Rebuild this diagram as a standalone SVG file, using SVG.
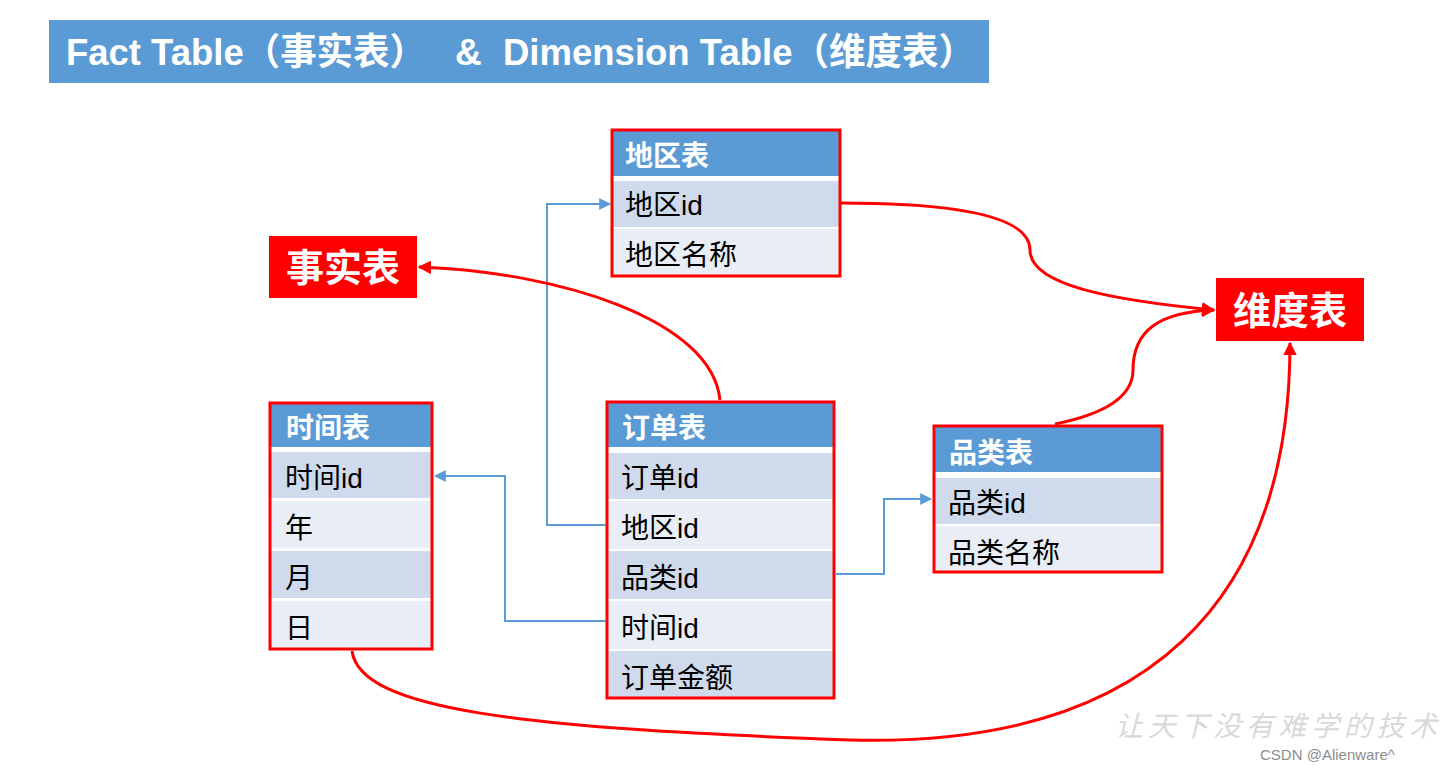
<svg xmlns="http://www.w3.org/2000/svg" width="1440" height="769" viewBox="0 0 1440 769">
<style>
.hdr{fill:#5b9bd5}
.rd{fill:#cfdbec}
.rl{fill:#e9edf5}
.box{fill:none;stroke:#ff0000;stroke-width:3}
.ht{font-family:"Liberation Sans","Noto Sans CJK SC",sans-serif;font-weight:bold;font-size:28px;fill:#ffffff}
.t{font-family:"Liberation Sans","Noto Sans CJK SC",sans-serif;font-size:28px;fill:#000000}
.lab{font-family:"Noto Sans CJK SC",sans-serif;font-weight:bold;font-size:38px;fill:#ffffff}
.blue{fill:none;stroke:#5b9bd5;stroke-width:2}
.red{fill:none;stroke:#ff0000;stroke-width:3}
</style>
<defs>
<marker id="ab" viewBox="0 0 10 10" refX="9" refY="5" markerWidth="6" markerHeight="6" orient="auto" markerUnits="strokeWidth"><path d="M0,0 L10,5 L0,10 z" fill="#5b9bd5"/></marker>
<marker id="ar" viewBox="0 0 10 10" refX="9" refY="5" markerWidth="4.5" markerHeight="4.5" orient="auto" markerUnits="strokeWidth"><path d="M0,0 L10,5 L0,10 z" fill="#ff0000"/></marker>
</defs>
<rect width="1440" height="769" fill="#ffffff"/>
<g id="title">
<rect x="49" y="20" width="940" height="63" fill="#5b9bd5"/>
<text y="65" font-family="Liberation Sans,'Noto Sans CJK SC',sans-serif" font-weight="bold" font-size="37" fill="#ffffff"><tspan x="66" textLength="360" lengthAdjust="spacingAndGlyphs">Fact Table（事实表）</tspan><tspan x="455">&amp;</tspan><tspan x="503" textLength="472" lengthAdjust="spacingAndGlyphs">Dimension Table（维度表）</tspan></text>
</g>
<g id="fact-label">
<rect x="269" y="236" width="148" height="62" fill="#ff0000"/>
<text class="lab" x="343" y="281" text-anchor="middle">事实表</text>
</g>
<g id="dim-label">
<rect x="1216" y="278" width="148" height="63" fill="#ff0000"/>
<text class="lab" x="1290" y="324" text-anchor="middle">维度表</text>
</g>
<g id="region">
<rect class="hdr" x="612" y="130" width="228" height="46"/>
<rect class="rd" x="612" y="181" width="228" height="46"/>
<rect class="rl" x="612" y="229" width="228" height="47"/>
<rect class="box" x="612" y="130" width="228" height="146"/>
<text class="ht" x="625" y="166">地区表</text>
<text class="t" x="625" y="215">地区id</text>
<text class="t" x="625" y="265">地区名称</text>
</g>
<g id="time">
<rect class="hdr" x="270" y="403" width="162" height="44"/>
<rect class="rd" x="270" y="452" width="162" height="46"/>
<rect class="rl" x="270" y="501" width="162" height="47"/>
<rect class="rd" x="270" y="551" width="162" height="47"/>
<rect class="rl" x="270" y="601" width="162" height="48"/>
<rect class="box" x="270" y="403" width="162" height="246"/>
<text class="ht" x="286" y="438">时间表</text>
<text class="t" x="285" y="488">时间id</text>
<text class="t" x="285" y="538">年</text>
<text class="t" x="285" y="588">月</text>
<text class="t" x="285" y="638">日</text>
</g>
<g id="order">
<rect class="hdr" x="607" y="402" width="227" height="45"/>
<rect class="rd" x="607" y="453" width="227" height="46"/>
<rect class="rl" x="607" y="501" width="227" height="48"/>
<rect class="rd" x="607" y="551" width="227" height="48"/>
<rect class="rl" x="607" y="601" width="227" height="48"/>
<rect class="rd" x="607" y="651" width="227" height="47"/>
<rect class="box" x="607" y="402" width="227" height="296"/>
<text class="ht" x="622" y="438">订单表</text>
<text class="t" x="621" y="488">订单id</text>
<text class="t" x="621" y="538">地区id</text>
<text class="t" x="621" y="588">品类id</text>
<text class="t" x="621" y="638">时间id</text>
<text class="t" x="621" y="688">订单金额</text>
</g>
<g id="category">
<rect class="hdr" x="934" y="426" width="228" height="46"/>
<rect class="rd" x="934" y="478" width="228" height="46"/>
<rect class="rl" x="934" y="526" width="228" height="46"/>
<rect class="box" x="934" y="426" width="228" height="146"/>
<text class="ht" x="949" y="463">品类表</text>
<text class="t" x="948" y="513">品类id</text>
<text class="t" x="948" y="563">品类名称</text>
</g>
<g id="connectors">
<path class="blue" d="M606,525 H547 V204 H610" marker-end="url(#ab)"/>
<path class="blue" d="M606,621 H505 V476 H435" marker-end="url(#ab)"/>
<path class="blue" d="M836,574 H884 V499 H931" marker-end="url(#ab)"/>
<path class="red" d="M720,400 C712,320 560,272 419,267" marker-end="url(#ar)"/>
<path class="red" d="M841,203 C990,203 1030,225 1030,250 C1030,285 1110,300 1214,310" marker-end="url(#ar)"/>
<path class="red" d="M1055,424 C1115,412 1133,392 1133,370 C1133,330 1160,312 1214,310" marker-end="url(#ar)"/>
<path class="red" d="M352,651 C360,710 520,728 850,740 C1150,748 1290,600 1290,343" marker-end="url(#ar)"/>
</g>
<g id="watermark">
<text x="1115" y="736" font-family="'Noto Sans CJK SC',serif" font-size="28" font-style="italic" fill="#d9d9d9" textLength="322">让天下没有难学的技术</text>
<text x="1260" y="760" font-family="'Liberation Sans',sans-serif" font-size="15" fill="#8c8c8c">CSDN @Alienware^</text>
</g>
</svg>
